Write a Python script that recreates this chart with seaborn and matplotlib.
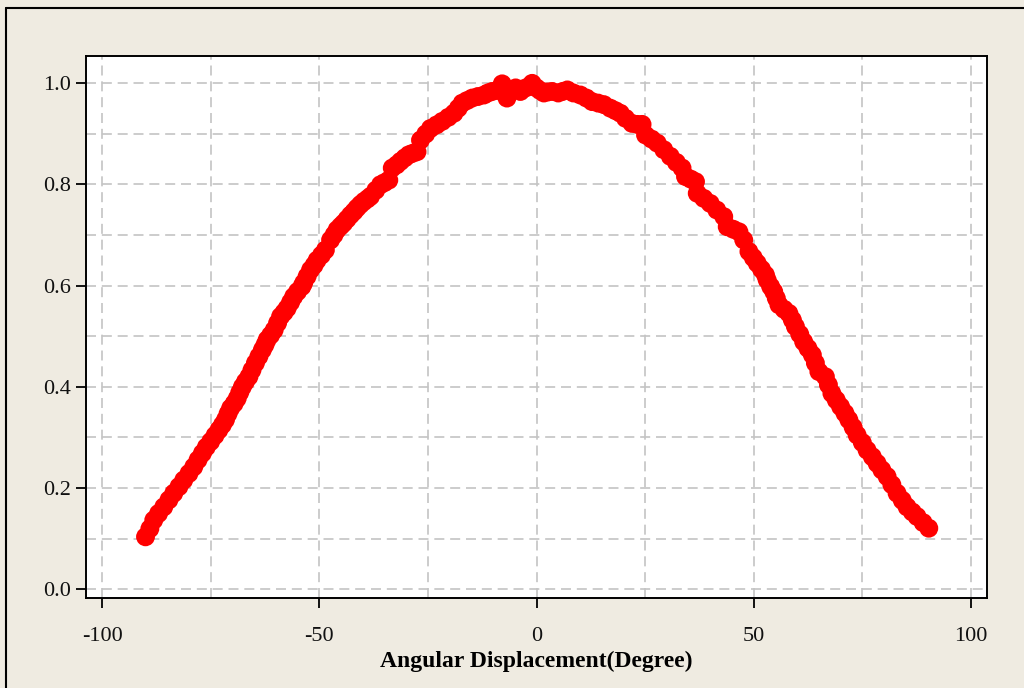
import numpy as np
import pandas as pd
import matplotlib
matplotlib.use("Agg")
import matplotlib.pyplot as plt
from matplotlib.lines import Line2D
from matplotlib.ticker import FixedLocator
import seaborn as sns

# ---- data ----
angle = [-90.0, -89.0, -88.1, -87.0, -85.8, -84.6, -83.5, -82.3, -81.2, -80.0,
         -78.9, -77.9, -76.9, -76.0, -75.0, -74.0, -73.1, -72.3, -71.6, -71.0,
         -70.4, -69.6, -68.9, -68.3, -67.7, -67.0, -66.2, -65.5, -64.7, -63.9,
         -63.1, -62.5, -62.0, -61.2, -60.4, -59.6, -58.9, -58.1, -57.4, -56.6,
         -55.9, -55.0, -54.0, -53.6, -52.8, -52.0, -51.2, -50.5, -49.5, -48.6,
         -47.4, -46.6, -45.9, -45.1, -44.4, -43.6, -42.8, -42.0, -41.3, -40.5,
         -39.7, -38.9, -38.2, -37.0, -35.9, -35.0, -34.0, -33.2, -32.2, -31.3,
         -30.3, -29.4, -28.5, -27.5, -26.7, -25.5, -24.4, -23.0, -21.7, -20.3,
         -19.0, -18.0, -17.1, -16.0, -14.8, -13.5, -12.1, -11.2, -10.2, -9.0,
         -7.9, -6.8, -5.8, -4.8, -3.7, -2.5, -1.0, 0.0, 0.8, 1.7,
         2.6, 3.6, 5.0, 6.0, 7.1, 8.5, 10.1, 11.5, 12.8, 14.2,
         15.5, 17.0, 18.2, 19.3, 20.5, 22.0, 23.2, 24.3, 25.1, 26.5,
         27.8, 29.3, 30.8, 32.2, 33.5, 34.3, 35.5, 36.6, 37.0, 38.5,
         40.0, 41.5, 43.1, 43.9, 45.3, 46.6, 47.7, 48.9, 49.9, 50.8,
         51.8, 52.7, 53.1, 53.9, 54.6, 55.2, 55.8, 57.0, 58.1, 58.9,
         59.6, 60.6, 61.5, 62.5, 63.5, 64.2, 65.0, 66.5, 67.2, 68.0,
         69.0, 70.0, 71.0, 71.9, 72.9, 73.8, 75.0, 76.1, 77.3, 78.4,
         79.5, 80.7, 81.8, 83.0, 84.2, 85.3, 86.5, 87.6, 89.0, 90.3]
response = [0.104, 0.120, 0.137, 0.150, 0.163, 0.177, 0.190, 0.203, 0.216, 0.229,
            0.242, 0.256, 0.269, 0.281, 0.292, 0.304, 0.315, 0.325, 0.335, 0.347,
            0.358, 0.367, 0.377, 0.389, 0.400, 0.410, 0.420, 0.433, 0.447, 0.460,
            0.473, 0.483, 0.493, 0.502, 0.512, 0.526, 0.539, 0.547, 0.555, 0.567,
            0.578, 0.588, 0.598, 0.605, 0.618, 0.631, 0.640, 0.650, 0.660, 0.670,
            0.690, 0.700, 0.710, 0.717, 0.723, 0.731, 0.739, 0.746, 0.753, 0.760,
            0.766, 0.771, 0.776, 0.788, 0.799, 0.803, 0.808, 0.832, 0.838, 0.845,
            0.852, 0.858, 0.861, 0.864, 0.887, 0.899, 0.910, 0.917, 0.924, 0.932,
            0.940, 0.950, 0.960, 0.965, 0.970, 0.973, 0.976, 0.980, 0.983, 0.985,
            0.998, 0.970, 0.985, 0.990, 0.983, 0.990, 0.999, 0.990, 0.985, 0.980,
            0.982, 0.983, 0.980, 0.983, 0.986, 0.980, 0.976, 0.970, 0.963, 0.960,
            0.957, 0.950, 0.945, 0.940, 0.930, 0.920, 0.918, 0.918, 0.897, 0.889,
            0.881, 0.868, 0.855, 0.843, 0.832, 0.815, 0.810, 0.805, 0.782, 0.772,
            0.762, 0.749, 0.736, 0.716, 0.711, 0.706, 0.690, 0.667, 0.655, 0.644,
            0.632, 0.621, 0.611, 0.598, 0.588, 0.575, 0.562, 0.553, 0.545, 0.532,
            0.519, 0.504, 0.489, 0.476, 0.463, 0.447, 0.430, 0.420, 0.404, 0.387,
            0.374, 0.361, 0.348, 0.335, 0.320, 0.305, 0.290, 0.275, 0.262, 0.249,
            0.236, 0.223, 0.207, 0.190, 0.176, 0.163, 0.153, 0.144, 0.132, 0.121]

x_ticks = [-100, -50, 0, 50, 100]
x_tick_labels = ["-100", "-50", "0", "50", "100"]
y_ticks = [0.0, 0.2, 0.4, 0.6, 0.8, 1.0]
y_tick_labels = ["0.0", "0.2", "0.4", "0.6", "0.8", "1.0"]
x_label = "Angular Displacement(Degree)"

df = pd.DataFrame({"angle": angle, "response": response})

# ---- style ----
sns.set_style("white")
plt.rcParams["font.family"] = ["Liberation Serif", "DejaVu Serif"]

bg = "#EFEBE1"
fig = plt.figure(figsize=(10.24, 6.88), dpi=100, facecolor=bg)
ax = fig.add_axes([86/1024, 1 - 598/688, (987-86)/1024, (598-56)/688])
ax.set_facecolor("white")

sns.scatterplot(data=df, x="angle", y="response", color="#FF0000", s=185,
                edgecolor="none", linewidth=0, ax=ax, zorder=3, legend=False)

ax.set_xlim(-103.7, 103.7)
ax.set_ylim(-0.0168, 1.053)

ax.xaxis.set_major_locator(FixedLocator(x_ticks))
ax.set_xticklabels(x_tick_labels)
ax.xaxis.set_minor_locator(FixedLocator([-75, -25, 25, 75]))
ax.yaxis.set_major_locator(FixedLocator(y_ticks))
ax.set_yticklabels(y_tick_labels)
ax.yaxis.set_minor_locator(FixedLocator([0.1, 0.3, 0.5, 0.7, 0.9]))

grid_kw = dict(color="#C4C4C4", linestyle=(0, (6, 3.5)), linewidth=1.2)
ax.grid(True, which="both", **grid_kw)
ax.set_axisbelow(True)

ax.tick_params(axis="both", which="major", direction="out", length=7, width=1.3,
               color="black", labelsize=16, labelcolor="#111111")
ax.tick_params(axis="x", which="major", pad=14)
ax.tick_params(axis="y", which="major", pad=4)
ax.tick_params(axis="both", which="minor", length=0)
ax.tick_params(bottom=True, left=True, top=False, right=False)

for sp in ax.spines.values():
    sp.set_visible(True)
    sp.set_color("black")
    sp.set_linewidth(1.4)

ax.set_xlabel(x_label, fontsize=17, fontweight="bold", labelpad=3, color="black")
ax.set_ylabel("")

# figure border (left and top edges visible)
bx, by = 6/1024, 1 - 8/688
fig.add_artist(Line2D([bx, bx], [0, by], transform=fig.transFigure, color="black", lw=1.5))
fig.add_artist(Line2D([bx, 1], [by, by], transform=fig.transFigure, color="black", lw=1.5))

fig.savefig("out.png", dpi=100, facecolor=bg)
